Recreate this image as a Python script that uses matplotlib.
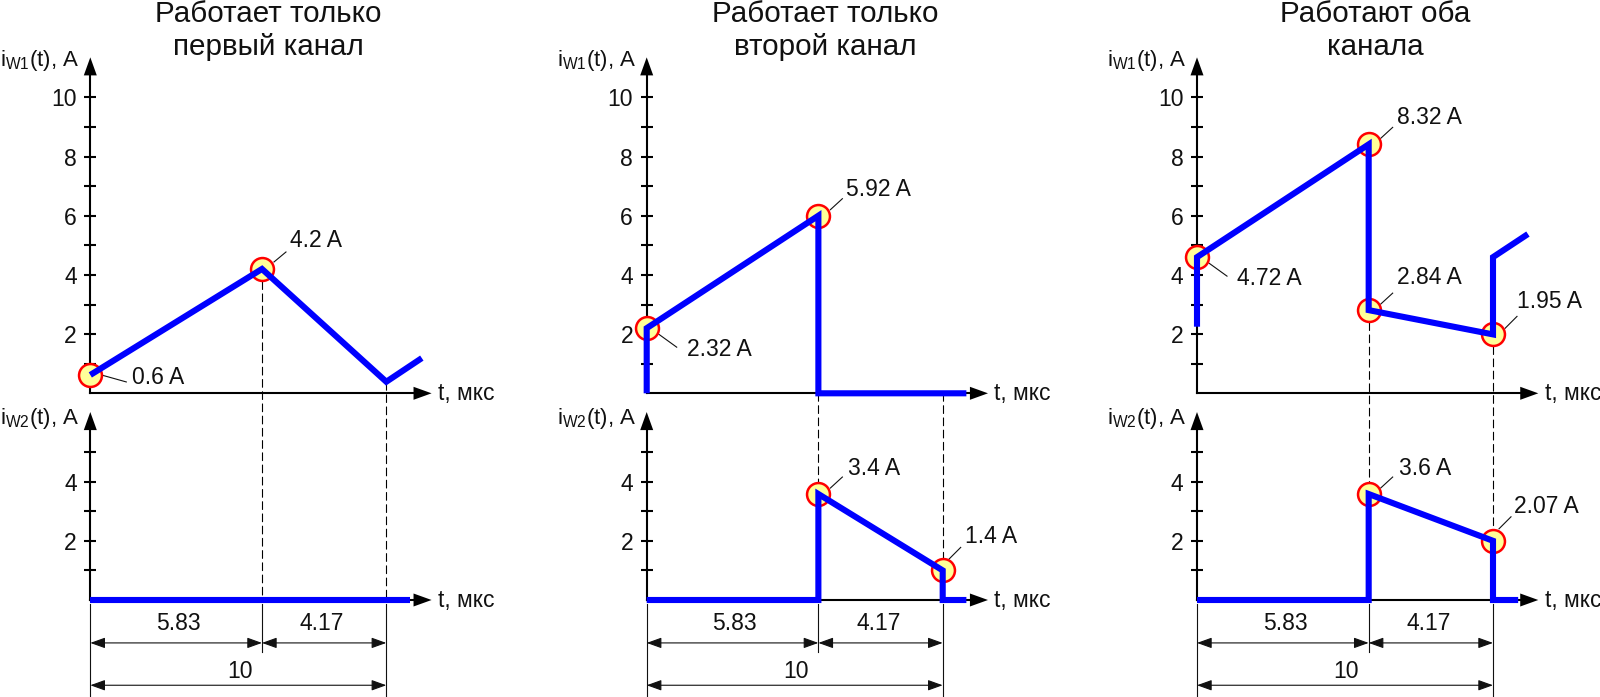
import matplotlib
matplotlib.use('Agg')
import matplotlib.pyplot as plt
from matplotlib.patches import ConnectionPatch
from matplotlib.transforms import IdentityTransform

plt.rcParams['font.family'] = ['Liberation Sans', 'DejaVu Sans']
plt.rcParams['mathtext.fontset'] = 'custom'
plt.rcParams['mathtext.rm'] = 'Liberation Sans'

# values
titles = ['Работает только\nпервый канал', 'Работает только\nвторой канал', 'Работают оба\nканала']

t1_upper = [0, 5.8, 10, 11.2]
i1_upper = [0.62, 4.2, 0.39, 1.19]
t1_lower = [0, 10.8]
i1_lower = [0, 0]

t2_upper = [0, 0, 5.8, 5.8, 10.8]
i2_upper = [0, 2.2, 6.0, 0, 0]
t2_lower = [0, 5.8, 5.8, 10, 10, 10.8]
i2_lower = [0, 0, 3.58, 1.0, 0, 0]

t3_upper = [0, 0, 5.8, 5.8, 10, 10, 11.18]
i3_upper = [2.25, 4.6, 8.41, 2.81, 1.99, 4.6, 5.38]
t3_lower = [0, 5.8, 5.8, 10, 10, 10.85]
i3_lower = [0, 0, 3.58, 2.0, 0, 0]

# marked points: t, i, label
points1_upper = [(0, 0.62, '0.6 A'), (5.8, 4.2, '4.2 A')]
points2_upper = [(0, 2.2, '2.32 A'), (5.8, 6.0, '5.92 A')]
points2_lower = [(5.8, 3.58, '3.4 A'), (10, 1.0, '1.4 A')]
points3_upper = [(0, 4.6, '4.72 A'), (5.8, 8.41, '8.32 A'), (5.8, 2.81, '2.84 A'), (10, 1.99, '1.95 A')]
points3_lower = [(5.8, 3.58, '3.6 A'), (10, 2.0, '2.07 A')]

# dashed guides: t, i in upper plot, i in lower plot
guides1 = [(5.8, 4.2, 0), (10, 0.39, 0)]
guides2 = [(5.8, 0, 3.58), (10, 0, 1.0)]
guides3 = [(5.8, 2.81, 3.58), (10, 1.99, 2.0)]

upper_ticks = [1, 2, 3, 4, 5, 6, 7, 8, 9, 10]
lower_ticks = [1, 2, 3, 4, 5]

# layout in pixels
W, H = 1600, 697
SCALE = 29.6
X_MAX = 11.53
UPPER_TOP = 11.35
LOWER_TOP = 6.35
UPPER_BASE = 393.3
LOWER_BASE = 600
LEFTS = [90.3, 646.7, 1197]

# callout offsets from the marker, px: text left/center, leader start, leader end
OFF_RIGHT_UP = ((28, 27), (12, 6), (24, 17))
OFF_LOW_RIGHT = ((40, -21), (12, -6), (30, -19))
callouts = {
    '0.6 A': ((42, -3), (11, 0), (36, -7)),
    '4.2 A': ((28, 28), (12, 7), (24, 17)),
    '2.32 A': OFF_LOW_RIGHT,
    '5.92 A': ((28, 26), (12, 6), (24, 17)),
    '3.4 A': ((30, 26), (12, 6), (24, 17)),
    '1.4 A': ((22, 34), (6, 11), (18, 23)),
    '4.72 A': OFF_LOW_RIGHT,
    '8.32 A': OFF_RIGHT_UP,
    '2.84 A': ((28, 33), (12, 6), (24, 17)),
    '1.95 A': ((24, 33), (12, 6), (24, 18)),
    '3.6 A': ((30, 26), (12, 6), (24, 17)),
    '2.07 A': ((21, 34), (6, 12), (18, 24)),
}

BLUE = '#0000ff'
FS = 16.5
INK = '#111111'


def make_axes(fig, left, base, top, ticks, shown, zorder):
    ax = fig.add_axes([left / W, 1 - base / H, X_MAX * SCALE / W, top * SCALE / H])
    ax.set_xlim(0, X_MAX)
    ax.set_ylim(0, top)
    ax.patch.set_visible(False)
    ax.set_zorder(zorder)
    ax.spines['top'].set_visible(False)
    ax.spines['right'].set_visible(False)
    ax.spines['left'].set_linewidth(1.5)
    ax.spines['bottom'].set_linewidth(1.5)
    ax.spines['left'].set_bounds(0, top - 0.3)
    ax.spines['bottom'].set_bounds(0, X_MAX - 0.3)
    ax.set_xticks([])
    ax.set_yticks(ticks)
    ax.set_yticklabels([str(v) if v in shown else '' for v in ticks], fontsize=FS, color=INK)
    ax.tick_params(axis='y', direction='inout', length=8.6, width=1.5, pad=5.5)

    head = dict(arrowstyle='-|>,head_length=1,head_width=0.36', color='black', lw=0,
                mutation_scale=13, shrinkA=0, shrinkB=0)
    ax.annotate('', xy=(0, 1), xytext=(0, 0.8), xycoords='axes fraction', arrowprops=head)
    ax.annotate('', xy=(1, 0), xytext=(0.8, 0), xycoords='axes fraction', arrowprops=head)
    ax.text(11.74, 0, 't, мкс', fontsize=FS, color=INK, va='center', ha='left', clip_on=False)
    return ax


def draw_curve(ax, t, i):
    ax.plot(t, i, color=BLUE, lw=4.4, solid_capstyle='butt', solid_joinstyle='miter',
            clip_on=False, zorder=5)


def draw_points(ax, points):
    for t, i, label in points:
        ax.plot([t], [i], 'o', ms=16.5, mfc='#ffff99', mec='#ff0000', mew=1.8, clip_on=False, zorder=4)
        text_off, lead_a, lead_b = callouts[label]
        ax.annotate(label, xy=(t, i), xytext=text_off, textcoords='offset pixels',
                    fontsize=FS, color=INK, va='center', ha='left', zorder=6)
        x0, y0 = ax.transData.transform((t, i))
        ax.plot([x0 + lead_a[0], x0 + lead_b[0]], [y0 + lead_a[1], y0 + lead_b[1]],
                color=INK, lw=0.8, transform=IdentityTransform(), clip_on=False, zorder=3)


def draw_dimensions(ax, t_mid, t_end):
    for t, low in [(0, -3.3), (t_mid, -1.74), (t_end, -3.3)]:
        ax.plot([t, t], [-0.13, low], color=INK, lw=0.8, clip_on=False)
    dim = dict(arrowstyle='<|-|>,head_length=1,head_width=0.36', color=INK, lw=0.8,
               mutation_scale=9, shrinkA=0, shrinkB=0)
    ax.annotate('', xy=(t_mid, -1.45), xytext=(0, -1.45), arrowprops=dim, annotation_clip=False)
    ax.annotate('', xy=(t_end, -1.45), xytext=(t_mid, -1.45), arrowprops=dim, annotation_clip=False)
    ax.annotate('', xy=(t_end, -2.88), xytext=(0, -2.88), arrowprops=dim, annotation_clip=False)
    ax.text(2.97, -0.81, '5.83', fontsize=FS, color=INK, ha='center', va='center')
    ax.text(7.83, -0.81, '4.17', fontsize=FS, color=INK, ha='center', va='center')
    ax.text(5.05, -2.42, '10', fontsize=FS, color=INK, ha='center', va='center')


fig = plt.figure(figsize=(W / 100, H / 100), dpi=100)

columns = [
    (t1_upper, i1_upper, t1_lower, i1_lower, points1_upper, [], guides1),
    (t2_upper, i2_upper, t2_lower, i2_lower, points2_upper, points2_lower, guides2),
    (t3_upper, i3_upper, t3_lower, i3_lower, points3_upper, points3_lower, guides3),
]

for n, col in enumerate(columns):
    t_up, i_up, t_low, i_low, pts_up, pts_low, guides = col
    left = LEFTS[n]
    ax_up = make_axes(fig, left, UPPER_BASE, UPPER_TOP, upper_ticks, [2, 4, 6, 8, 10], 2)
    ax_low = make_axes(fig, left, LOWER_BASE, LOWER_TOP, lower_ticks, [2, 4], 1)

    draw_curve(ax_up, t_up, i_up)
    draw_curve(ax_low, t_low, i_low)
    draw_points(ax_up, pts_up)
    draw_points(ax_low, pts_low)
    draw_dimensions(ax_low, 5.8, 10)

    for t, i_a, i_b in guides:
        con = ConnectionPatch(xyA=(t, i_a), coordsA=ax_up.transData, xyB=(t, i_b), coordsB=ax_low.transData,
                              color='black', lw=0.8, linestyle=(0, (7, 4)), zorder=1)
        con.set_snap(True)
        ax_low.add_artist(con)

    ax_up.text(6.02, 12.25, titles[n], fontsize=21.3, color=INK, ha='center', va='center',
               linespacing=1.24, clip_on=False)
    # the label starts right at the figure edge in the first column
    ax_up.text(-3.04, 11.26, r'$\mathrm{i_{W1}}$(t), A', fontsize=16, color=INK, ha='left', va='center')
    ax_low.text(-3.04, 6.13, r'$\mathrm{i_{W2}}$(t), A', fontsize=16, color=INK, ha='left', va='center')

fig.savefig('out.png', dpi=100)
